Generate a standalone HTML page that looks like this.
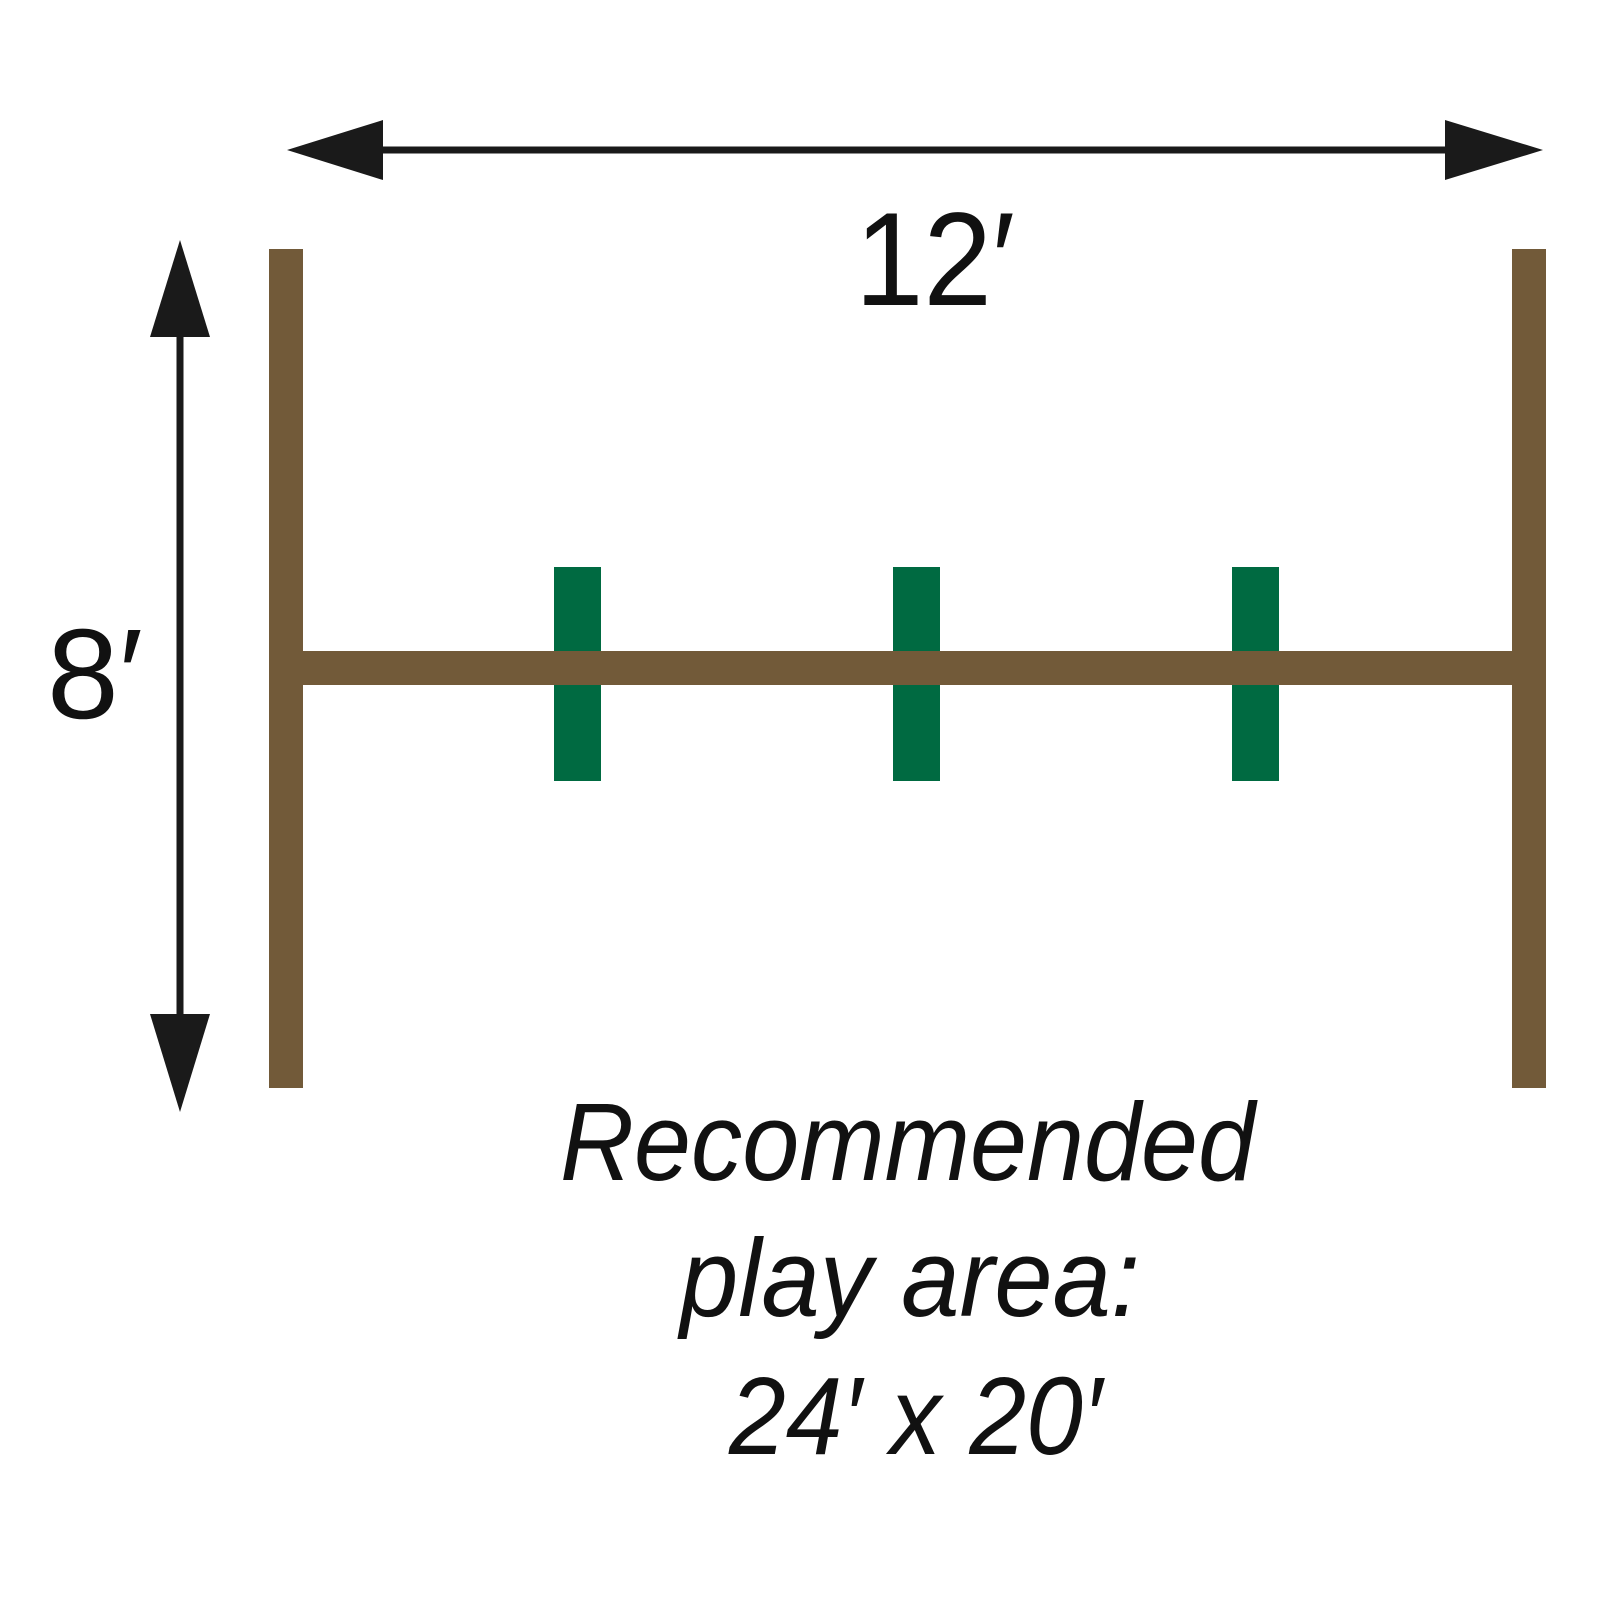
<!DOCTYPE html>
<html><head><meta charset="utf-8"><style>html,body{margin:0;padding:0;background:#fff}</style></head>
<body>
<svg width="1600" height="1600" viewBox="0 0 1600 1600" xmlns="http://www.w3.org/2000/svg">
<rect width="1600" height="1600" fill="#fff"/>
<!-- top arrow -->
<line x1="370" y1="150" x2="1460" y2="150" stroke="#1a1a1a" stroke-width="7"/>
<polygon points="287,150 383,120 383,180" fill="#1a1a1a"/>
<polygon points="1543,150 1445,120 1445,180" fill="#1a1a1a"/>
<!-- vertical arrow -->
<line x1="180" y1="320" x2="180" y2="1030" stroke="#1a1a1a" stroke-width="7"/>
<polygon points="180,240 150,337 210,337" fill="#1a1a1a"/>
<polygon points="180,1112 150,1014 210,1014" fill="#1a1a1a"/>
<!-- green -->
<rect x="554" y="567" width="47" height="214" fill="#006a41"/>
<rect x="893" y="567" width="47" height="214" fill="#006a41"/>
<rect x="1232" y="567" width="47" height="214" fill="#006a41"/>
<!-- brown -->
<rect x="269" y="249" width="34" height="839" fill="#725a39"/>
<rect x="1512" y="249" width="34" height="839" fill="#725a39"/>
<rect x="300" y="651" width="1215" height="34" fill="#725a39"/>
<g font-family="Liberation Sans, sans-serif" fill="#111">
<text x="855" y="305" font-size="133" textLength="160" lengthAdjust="spacingAndGlyphs">12′</text>
<text x="47" y="718" font-size="128" textLength="96" lengthAdjust="spacingAndGlyphs">8′</text>
<g font-style="italic" font-size="110">
<text x="560" y="1180" textLength="695" lengthAdjust="spacingAndGlyphs">Recommended</text>
<text x="680" y="1316" textLength="460" lengthAdjust="spacingAndGlyphs">play area:</text>
<text x="729" y="1454" textLength="373" lengthAdjust="spacingAndGlyphs">24′ x 20′</text>
</g>
</g>
</svg>
</body></html>
